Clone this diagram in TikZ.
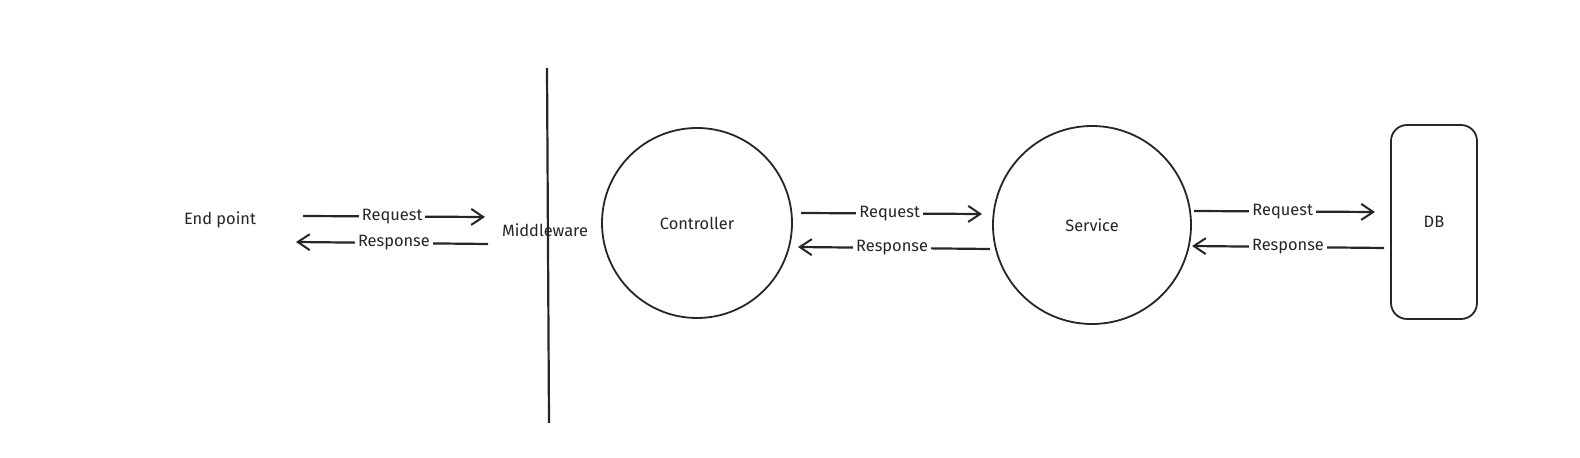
\documentclass[tikz,border=0pt]{standalone}
\usepackage{fontspec}
\setmainfont{Fira Sans}
\usetikzlibrary{arrows.meta}
\tikzset{
  lbl/.style={font=\fontsize{8.2pt}{9pt}\selectfont, text=black!85},
  edgelbl/.style={lbl, fill=white, inner sep=1.5pt},
  conn/.style={line width=1.1pt, draw=black!85, -{Straight Barb[length=6pt,width=8pt,line width=1pt]}},
  shapeline/.style={line width=0.9pt, draw=black!85},
}
\begin{document}
\begin{tikzpicture}[x=0.5pt,y=-0.5pt]
\useasboundingbox[fill=white] (0,0) rectangle (1580,458);
% nodes
\node[lbl] (ep) at (220,220) {End point};
\node[lbl] (mw) at (545,230) {Middleware};
\coordinate (wt) at (547,68);
\coordinate (wb) at (549,423);
\draw[shapeline, line width=1.1pt] (wt) -- (wb);
\node[shapeline, circle, minimum size=95pt, inner sep=0pt, draw] (ctl) at (697,223) {};
\node[lbl] at (ctl.center) {Controller};
\node[shapeline, circle, minimum size=99pt, inner sep=0pt, draw] (svc) at (1092,225) {};
\node[lbl] at (svc.center) {Service};
\node[shapeline, draw, rounded corners=8pt, minimum width=43pt, minimum height=97pt, inner sep=0pt] (db) at (1434,222) {};
\node[lbl] at (db.center) {DB};
% connector endpoints
\coordinate (a1s) at (303,216); \coordinate (a1e) at (485,217);
\coordinate (a2s) at (488,244); \coordinate (a2e) at (296,242);
\coordinate (b1s) at (801,213); \coordinate (b1e) at (982,214);
\coordinate (b2s) at (990,249); \coordinate (b2e) at (798,247);
\coordinate (c1s) at (1194,211); \coordinate (c1e) at (1375,212);
\coordinate (c2s) at (1384,248); \coordinate (c2e) at (1192,246);
\draw[conn] (a1s) -- node[edgelbl, pos=0.49] {Request} (a1e);
\draw[conn] (a2s) -- node[edgelbl, pos=0.49] {Response} (a2e);
\draw[conn] (b1s) -- node[edgelbl, pos=0.49] {Request} (b1e);
\draw[conn] (b2s) -- node[edgelbl, pos=0.51] {Response} (b2e);
\draw[conn] (c1s) -- node[edgelbl, pos=0.49] {Request} (c1e);
\draw[conn] (c2s) -- node[edgelbl, pos=0.5] {Response} (c2e);
\end{tikzpicture}
\end{document}
